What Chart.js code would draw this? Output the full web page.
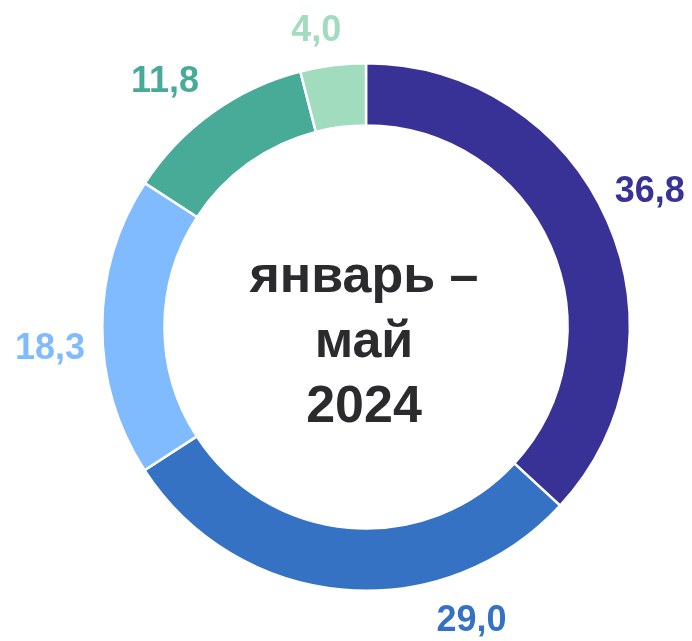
<!DOCTYPE html>
<html>
<head>
<meta charset="utf-8">
<script src="https://cdn.jsdelivr.net/npm/chart.js@4"></script>
<style>
html,body{margin:0;padding:0;background:#fff;}
#wrap{width:692px;height:641px;}
</style>
</head>
<body>
<div id="wrap"><canvas id="c" width="692" height="641"></canvas></div>
<script>
// Data
const categories = ["A", "B", "C", "D", "E"];
const values = [36.8, 29.0, 18.3, 11.8, 4.0];
const valueLabels = ["36,8", "29,0", "18,3", "11,8", "4,0"];
const centerLines = ["январь –", "май", "2024"];

// Styles
const colors = ["#383296", "#3672c4", "#80bbff", "#48ab98", "#a2dcbf"];
const labelRadius = 300;
const labelNudge = [[9, -14], [131, -5], [-16, 23], [-26, -1], [-12, 2]];

const labelPlugin = {
  id: 'labels',
  afterDatasetsDraw(chart) {
    const ctx = chart.ctx;
    const meta = chart.getDatasetMeta(0);
    ctx.save();
    ctx.font = 'bold 36px "Liberation Sans", Arial, sans-serif';
    ctx.textAlign = 'center';
    ctx.textBaseline = 'middle';
    meta.data.forEach((arc, i) => {
      const p = arc.getProps(['x', 'y', 'startAngle', 'endAngle'], true);
      const mid = (p.startAngle + p.endAngle) / 2;
      const x = p.x + Math.cos(mid) * labelRadius + labelNudge[i][0];
      const y = p.y + Math.sin(mid) * labelRadius + labelNudge[i][1];
      ctx.fillStyle = colors[i];
      ctx.fillText(valueLabels[i], x, y);
    });
    // center text
    const cx = meta.data[0].x - 2;
    const cy = meta.data[0].y;
    ctx.font = 'bold 52px "Liberation Sans", Arial, sans-serif';
    ctx.fillStyle = '#2b2b2e';
    ctx.textBaseline = 'alphabetic';
    const lh = 65;
    centerLines.forEach((t, i) => {
      ctx.fillText(t, cx, cy - 35 + i * lh);
    });
    ctx.restore();
  }
};

new Chart(document.getElementById('c'), {
  type: 'doughnut',
  data: {
    labels: categories,
    datasets: [{
      data: values,
      backgroundColor: colors,
      borderColor: '#ffffff',
      borderWidth: 2.5,
      hoverOffset: 0
    }]
  },
  options: {
    responsive: false,
    animation: false,
    cutout: '76.4%',
    layout: { padding: { left: 101, top: 62, right: 61, bottom: 49 } },
    plugins: {
      legend: { display: false },
      tooltip: { enabled: false }
    }
  },
  plugins: [labelPlugin]
});
</script>
</body>
</html>
